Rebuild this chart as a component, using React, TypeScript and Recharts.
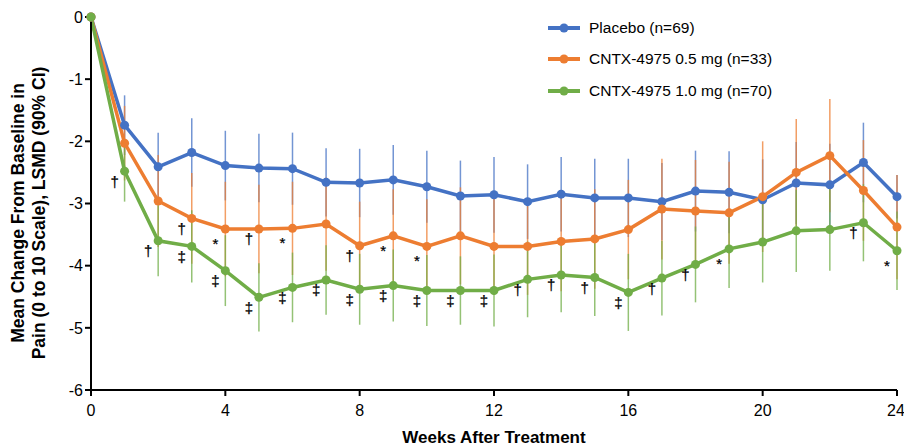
import { LineChart, Line, XAxis, YAxis, ErrorBar, LabelList, Legend, Label } from 'recharts';

const FONT = '"Liberation Sans", Arial, sans-serif';

// weeks after treatment
const weeks = [0, 1, 2, 3, 4, 5, 6, 7, 8, 9, 10, 11, 12, 13, 14, 15, 16, 17, 18, 19, 20, 21, 22, 23, 24];

// LSMD change from baseline
const placebo = [0, -1.74, -2.41, -2.18, -2.39, -2.43, -2.44, -2.66, -2.67, -2.62, -2.73, -2.88, -2.86, -2.97, -2.85, -2.91, -2.91, -2.97, -2.8, -2.82, -2.94, -2.67, -2.7, -2.34, -2.89];
const dose05 = [0, -2.03, -2.96, -3.24, -3.41, -3.41, -3.4, -3.33, -3.68, -3.52, -3.69, -3.52, -3.69, -3.69, -3.61, -3.57, -3.42, -3.09, -3.12, -3.15, -2.89, -2.5, -2.23, -2.79, -3.38];
const dose10 = [0, -2.48, -3.6, -3.69, -4.08, -4.51, -4.35, -4.23, -4.38, -4.32, -4.4, -4.4, -4.4, -4.22, -4.15, -4.19, -4.43, -4.2, -3.98, -3.73, -3.62, -3.44, -3.42, -3.31, -3.76];

// 90% CI half widths
const placeboErr = [0, 0.48, 0.55, 0.55, 0.56, 0.55, 0.58, 0.55, 0.55, 0.56, 0.58, 0.57, 0.61, 0.6, 0.6, 0.63, 0.63, 0.62, 0.65, 0.66, 0.65, 0.66, 0.66, 0.64, 0.35];
const dose05Err = [0, 0.6, 0.74, 0.73, 0.76, 0.71, 0.75, 0.75, 0.71, 0.75, 0.76, 0.78, 0.78, 0.78, 0.8, 0.8, 0.8, 0.81, 0.82, 0.82, 0.89, 0.86, 0.91, 0.81, 0.84];
const dose10Err = [0, 0.49, 0.57, 0.58, 0.57, 0.55, 0.56, 0.56, 0.57, 0.58, 0.57, 0.55, 0.58, 0.61, 0.6, 0.62, 0.62, 0.6, 0.61, 0.63, 0.65, 0.66, 0.66, 0.62, 0.63];

// significance markers vs placebo
const dose05Marks = ['', '', '', '†', '*', '†', '*', '', '†', '*', '*', '', '', '', '', '', '', '', '', '', '', '', '', '', ''];
const dose10Marks = ['', '†', '†', '‡', '‡', '‡', '‡', '‡', '‡', '‡', '‡', '‡', '‡', '†', '†', '†', '‡', '†', '†', '*', '', '', '', '†', '*'];

const xTicks = [0, 4, 8, 12, 16, 20, 24];
const yTicks = [0, -1, -2, -3, -4, -5, -6];

const series = [
  { key: 'placebo', err: 'placeboErr', mark: null, name: 'Placebo (n=69)', color: '#4472C4' },
  { key: 'dose05', err: 'dose05Err', mark: 'dose05Mark', name: 'CNTX-4975 0.5 mg (n=33)', color: '#ED7D31' },
  { key: 'dose10', err: 'dose10Err', mark: 'dose10Mark', name: 'CNTX-4975 1.0 mg (n=70)', color: '#70AD47' },
];

const rows = weeks.map((week, i) => ({
  week,
  placebo: placebo[i],
  dose05: dose05[i],
  dose10: dose10[i],
  placeboErr: placeboErr[i],
  dose05Err: dose05Err[i],
  dose10Err: dose10Err[i],
  dose05Mark: dose05Marks[i],
  dose10Mark: dose10Marks[i],
}));

const renderMark = (props: any) => {
  const { value } = props;
  if (!value) return null;
  const x = props.x ?? props.viewBox?.x;
  const y = props.y ?? props.viewBox?.y;
  const dy = value === '*' ? 20 : 15.5;
  return (
    <text x={x - 10} y={y + dy} textAnchor="middle" fontSize={15} fontFamily={FONT} fill="#000" stroke="#000" strokeWidth={0.25}>
      {value}
    </text>
  );
};

const renderYTitle = () => (
  <text transform="translate(24, 213) rotate(-90)" textAnchor="middle" fontSize={17.5} fontWeight="bold" fontFamily={FONT} fill="#000">
    <tspan x={0} y={0}>Mean Change From Baseline in</tspan>
    <tspan x={0} y={21}>Pain (0 to 10 Scale), LSMD (90% CI)</tspan>
  </text>
);

const renderLegend = () => (
  <div style={{ fontFamily: FONT, fontSize: 15.5, color: '#000' }}>
    {series.map((s) => (
      <div key={s.key} style={{ display: 'flex', alignItems: 'center', height: 31.5 }}>
        <svg width={32} height={12}>
          <line x1={0} y1={6} x2={32} y2={6} stroke={s.color} strokeWidth={4} />
          <circle cx={16} cy={6} r={4.5} fill={s.color} />
        </svg>
        <span style={{ marginLeft: 9, whiteSpace: 'nowrap' }}>{s.name}</span>
      </div>
    ))}
  </div>
);

export default function App() {
  return (
    <div style={{ position: 'absolute', left: 0, top: 0, background: '#fff' }}>
      <LineChart width={904} height={446} data={rows} margin={{ top: 17, right: 7, bottom: 0, left: 0 }}>
        <XAxis
          dataKey="week"
          type="number"
          domain={[0, 24]}
          ticks={xTicks}
          height={56}
          tickSize={6}
          tickMargin={9}
          axisLine={{ stroke: '#000', strokeWidth: 2 }}
          tickLine={{ stroke: '#000', strokeWidth: 2 }}
          tick={{ fill: '#000', fontSize: 16, fontFamily: FONT }}
        >
          <Label value="Weeks After Treatment" position="insideBottom" offset={3} fill="#000" fontSize={17} fontWeight="bold" fontFamily={FONT} />
        </XAxis>
        <YAxis
          type="number"
          domain={[-6, 0]}
          ticks={yTicks}
          width={91}
          tickSize={6}
          tickMargin={2}
          axisLine={{ stroke: '#000', strokeWidth: 2 }}
          tickLine={{ stroke: '#000', strokeWidth: 2 }}
          tick={{ fill: '#000', fontSize: 16, fontFamily: FONT }}
          label={{ content: renderYTitle }}
        />
        <Legend content={renderLegend} layout="vertical" align="center" verticalAlign="middle" wrapperStyle={{ top: 12, left: 548, width: 'auto' }} />
        {series.map((s) => (
          <Line
            key={`${s.key}-ci`}
            dataKey={s.key}
            stroke="none"
            dot={false}
            activeDot={false}
            legendType="none"
            isAnimationActive={false}
          >
            <ErrorBar dataKey={s.err} direction="y" width={0} stroke={s.color} strokeWidth={1.5} strokeOpacity={0.75} />
          </Line>
        ))}
        {series.map((s) => (
          <Line
            key={s.key}
            dataKey={s.key}
            name={s.name}
            stroke={s.color}
            strokeWidth={3.5}
            dot={{ r: 4.5, fill: s.color, stroke: s.color, strokeWidth: 0 }}
            activeDot={false}
            isAnimationActive={false}
          >
            {s.mark && <LabelList dataKey={s.mark} content={renderMark} />}
          </Line>
        ))}
      </LineChart>
    </div>
  );
}
